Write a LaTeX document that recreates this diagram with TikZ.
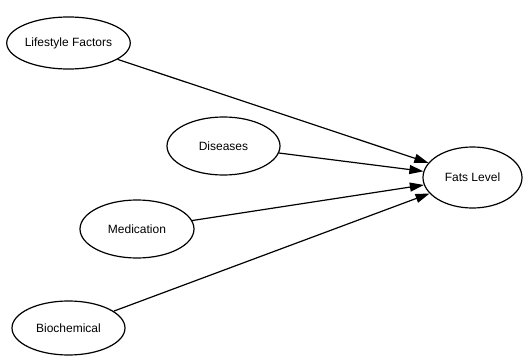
\documentclass[tikz,border=0pt]{standalone}
\usepackage{fontspec}
\setmainfont{Liberation Sans}
\usetikzlibrary{shapes.geometric,arrows.meta}
\begin{document}
\begin{tikzpicture}[x=1pt,y=-1pt,
  factor/.style={ellipse,draw,line width=1.2pt,inner sep=0pt,font=\fontsize{12}{14}\selectfont},
  link/.style={line width=1.2pt,-{Triangle[length=14pt,width=9pt]}}]
  \useasboundingbox (0,0) rectangle (523,356);
  \node[factor,minimum width=113pt,minimum height=52pt] (life) at (68.5,43) {Lifestyle Factors};
  \node[factor,minimum width=113pt,minimum height=58pt] (dis) at (223.5,146) {Diseases};
  \node[factor,minimum width=114pt,minimum height=58pt] (med) at (137,229) {Medication};
  \node[factor,minimum width=113pt,minimum height=54pt] (bio) at (68.5,328) {Biochemical};
  \node[factor,minimum width=99pt,minimum height=61pt] (fats) at (472.5,177.5) {Fats Level};
  \draw[link] (life) -- (fats);
  \draw[link] (dis) -- (fats);
  \draw[link] (med) -- (fats);
  \draw[link] (bio) -- (fats);
\end{tikzpicture}
\end{document}
